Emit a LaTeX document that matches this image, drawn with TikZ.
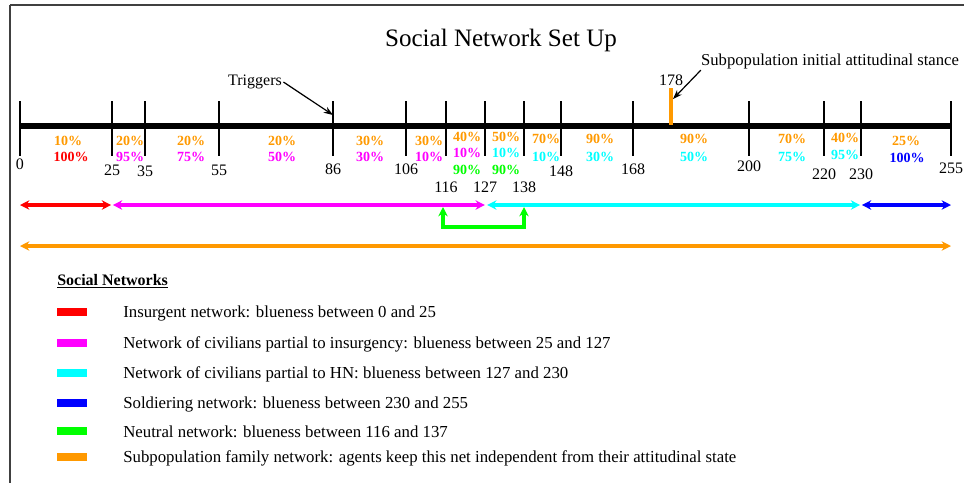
\documentclass[tikz,border=0pt]{standalone}
\usepackage{fontspec}
\setmainfont{Liberation Serif}
\usetikzlibrary{arrows.meta,positioning}
\definecolor{netorange}{HTML}{FF9900}
\definecolor{netred}{HTML}{FF0000}
\definecolor{netmag}{HTML}{FF00FF}
\definecolor{netcyan}{HTML}{00FFFF}
\definecolor{netblue}{HTML}{0000FF}
\definecolor{netgreen}{HTML}{00FF00}
\definecolor{frame}{HTML}{404040}

\begin{document}
\begin{tikzpicture}[x=0.75pt,y=-0.75pt,
  num/.style={font=\fontsize{12}{14}\selectfont,inner sep=0pt},
  pct/.style={font=\fontsize{10.5}{12}\selectfont\bfseries,inner sep=0pt},
  rng/.style={{Stealth[length=7pt,width=7pt]}-{Stealth[length=7pt,width=7pt]},line width=3pt},
  swatch/.style={minimum width=23pt,minimum height=6pt,inner sep=0pt},
  leg/.style={font=\fontsize{12.6}{15}\selectfont,anchor=west,inner sep=0pt},
  ptr/.style={-{Stealth[length=7pt,width=5pt]},line width=0.9pt}
]
  \useasboundingbox (0,0) rectangle (964,483);
  % frame
  \draw[frame,line width=1.6pt] (10,5) -- (964,5);
  \draw[frame,line width=1.6pt] (10,5) -- (10,483);

  \node[font=\fontsize{18.8}{22}\selectfont] (title) at (501,40) {Social Network Set Up};

  % blueness axis
  \draw[line width=3.8pt] (20,126) -- (951,126);
  \foreach \x/\v/\ly in {20/0/164,112/25/170,145/35/171,219/55/170,333/86/169,
      406/106/169,446/116/187,485/127/187,524/138/187,561/148/171,633/168/169,
      749/200/166,824/220/174,861/230/174,951/255/168}{
    \draw[line width=0.9pt] (\x,101) -- (\x,156);
    \node[num] (n\v) at (\x,\ly) {\v};
  }
  \draw[netorange,line width=2.6pt] (671,88) -- (671,125);
  \node[num] (n178) at (671,80) {178};
  \coordinate (s178) at (673,99);
  \coordinate (t86) at (333,115);

  % percentages per interval
  \foreach \x/\y/\c/\t [count=\i] in {
      68/141/netorange/10,71/157/netred/100,
      130/141/netorange/20,130/157/netmag/95,
      191/141/netorange/20,191/157/netmag/75,
      282/141/netorange/20,282/157/netmag/50,
      370/141/netorange/30,370/157/netmag/30,
      429/141/netorange/30,429/157/netmag/10,
      467/137/netorange/40,467/153/netmag/10,467/170/netgreen/90,
      506/137/netorange/50,506/153/netcyan/10,506/170/netgreen/90,
      546/139/netorange/70,546/157/netcyan/10,
      600/139/netorange/90,600/157/netcyan/30,
      694/139/netorange/90,694/157/netcyan/50,
      792/139/netorange/70,792/157/netcyan/75,
      845/138/netorange/40,845/155/netcyan/95,
      906/141/netorange/25,907/158/netblue/100}{
    \node[pct,text=\c] (p\i) at (\x,\y) {\t\%};
  }

  % annotations
  \node[font=\fontsize{12}{14}\selectfont,inner sep=1pt] (trig) at (255,82) {Triggers};
  \draw[ptr] (trig.east) -- (t86);
  \node[font=\fontsize{12.5}{14}\selectfont,inner sep=1pt] (sub) at (830,61) {Subpopulation initial attitudinal stance};
  \draw[ptr] ([xshift=1pt]sub.south west) -- (s178);

  % network ranges
  \coordinate (a0) at (20,205);
  \coordinate (a25) at (112,205);
  \coordinate (a127) at (486,205);
  \coordinate (a230) at (861,205);
  \coordinate (a255) at (951,205);
  \draw[rng,netred] (a0) -- ([xshift=-0.6pt]a25);
  \draw[rng,netmag] ([xshift=0.6pt]a25) -- ([xshift=-0.8pt]a127);
  \draw[rng,netcyan] ([xshift=0.8pt]a127) -- ([xshift=-0.6pt]a230);
  \draw[rng,netblue] ([xshift=0.6pt]a230) -- (a255);
  \coordinate (g116) at (443,207);
  \coordinate (g138) at (524,207);
  \draw[rng,netgreen] (g116) -- ++(0,20) -| (g138);
  \coordinate (f0) at (20,246);
  \coordinate (f255) at (951,246);
  \draw[rng,netorange] (f0) -- (f255);

  % legend
  \node[font=\fontsize{12}{14}\selectfont\bfseries,anchor=west,inner sep=0pt] (lt) at (57,281) {\underline{Social Networks}};
  \foreach \y/\c/\t [count=\i] in {
      313/netred/{Insurgent network: blueness between 0 and 25},
      344/netmag/{Network of civilians partial to insurgency: blueness between 25 and 127},
      374/netcyan/{Network of civilians partial to HN: blueness between 127 and 230},
      404/netblue/{Soldiering network: blueness between 230 and 255},
      432/netgreen/{Neutral network: blueness between 116 and 137},
      458/netorange/{Subpopulation family network: agents keep this net independent from their attitudinal state}}{
    \node[swatch,fill=\c] (sw\i) at (72,\y-1) {};
    \node[leg] (lg\i) at (123,\y) {\t};
  }
\end{tikzpicture}
\end{document}
